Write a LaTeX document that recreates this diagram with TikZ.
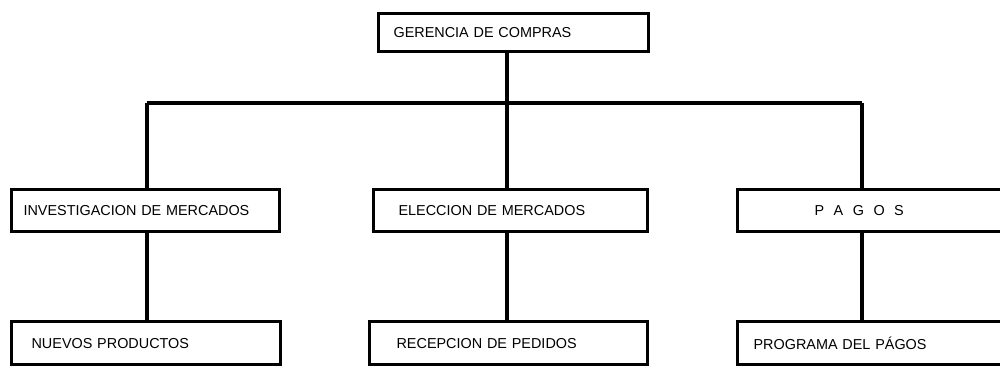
\documentclass[tikz,border=0pt]{standalone}
\usepackage{fontspec}
\setmainfont{Liberation Sans}
\newfontfamily\hand[WordSpace=2.3]{Liberation Sans}
\usepackage{tikz}
\usetikzlibrary{positioning}

\begin{document}
\begin{tikzpicture}[x=0.2mm, y=-0.2mm, line width=1.9pt, inner ysep=0pt,
  font=\hand\fontsize{8.2}{9}\selectfont]
\tikzstyle{box}=[draw, anchor=north west, align=left, line width=1.8pt]
\clip (0,0) rectangle (1000,365);
\node[box, minimum height=7.6mm, inner xsep=3mm, text width=48mm] (ger) at (377,12) {GERENCIA DE COMPRAS};

\node[box, minimum height=8.4mm, inner xsep=2.4mm, text width=48.8mm] (inv) at (10,188) {INVESTIGACION DE MERCADOS};
\node[box, minimum height=8.4mm, inner xsep=5mm, text width=44.8mm] (ele) at (372,188) {ELECCION DE MERCADOS};
\node[box, minimum height=8.4mm, inner xsep=15.4mm, text width=25.2mm] (pag) at (736,188) {P\hspace{1.9mm}A\hspace{1.9mm}G\hspace{1.9mm}O\hspace{1.9mm}S};

\node[box, minimum height=8.6mm, inner xsep=4mm, text width=45.8mm] (nue) at (10,320) {NUEVOS PRODUCTOS};
\node[box, minimum height=8.6mm, inner xsep=5.4mm, text width=44.8mm] (rec) at (368,320) {RECEPCION DE PEDIDOS};
\node[box, minimum height=8.6mm, inner xsep=3.2mm, text width=49.6mm] (prog) at (736,320) {PROGRAMA DEL PÁGOS};

\coordinate (j1) at (147,103);
\coordinate (j2) at (507,103);
\coordinate (j3) at (862,103);

\draw (ger.south -| j2) -- (j2);
\draw (j1) -- (j3);
\draw (j1) -- (j1 |- inv.north);
\draw (j2) -- (j2 |- ele.north);
\draw (j3) -- (j3 |- pag.north);

\draw (j1 |- inv.south) -- (j1 |- nue.north);
\draw (j2 |- ele.south) -- (j2 |- rec.north);
\draw (j3 |- pag.south) -- (j3 |- prog.north);
\end{tikzpicture}
\end{document}
